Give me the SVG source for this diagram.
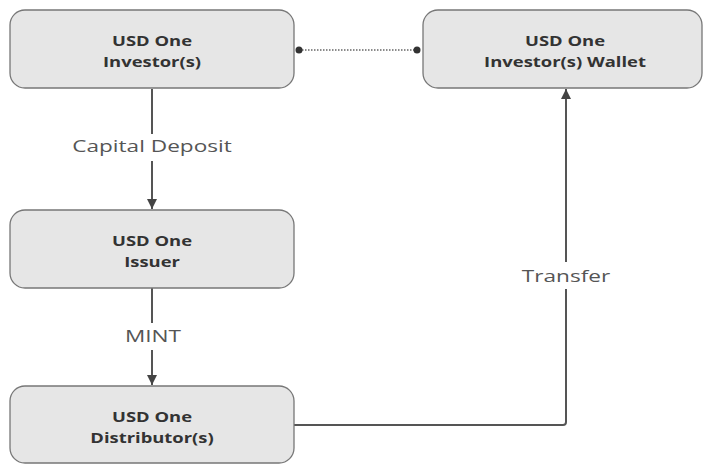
<svg xmlns="http://www.w3.org/2000/svg" width="703" height="464" viewBox="0 0 703 464">
<style>
.node rect{fill:#e6e6e6;stroke:#777;stroke-width:1.3}
.node text{font-family:"Open Sans",sans-serif;font-weight:bold;font-size:14.5px;fill:#333;text-anchor:middle}
.edge{fill:none;stroke:#555;stroke-width:2}
.lbl{font-family:"Open Sans",sans-serif;font-size:17px;fill:#555;text-anchor:middle}
.lblbg{fill:#fff}
</style>
<defs>
<marker id="arr" viewBox="0 0 10 10" refX="10" refY="5" markerWidth="5" markerHeight="5" orient="auto" markerUnits="strokeWidth">
<path d="M0,0 L10,5 L0,10 z" fill="#444"/>
</marker>
</defs>
<rect width="703" height="464" fill="#fff"/>
<g id="connectors">
<path class="edge" d="M152,89 V209" marker-end="url(#arr)"/>
<path class="edge" d="M152,288 V385" marker-end="url(#arr)"/>
<path class="edge" d="M294,425 H563 Q566,425 566,422 V89" marker-end="url(#arr)"/>
<path d="M299,50 H417" stroke="#666" stroke-width="1.3" stroke-dasharray="1.5,1.5" fill="none"/>
<circle cx="299" cy="50" r="3.5" fill="#333"/>
<circle cx="417" cy="50" r="3.5" fill="#333"/>
<rect class="lblbg" x="70" y="134" width="164" height="27"/>
<text class="lbl" transform="translate(152,152) scale(1.33,1)">Capital Deposit</text>
<rect class="lblbg" x="124" y="323" width="58" height="27"/>
<text class="lbl" transform="translate(153,342) scale(1.33,1)">MINT</text>
<rect class="lblbg" x="519" y="262" width="94" height="27"/>
<text class="lbl" transform="translate(566,282) scale(1.33,1)">Transfer</text>
</g>
<g id="investors" class="node">
<rect x="10" y="10" width="284" height="78" rx="15"/>
<text transform="translate(152,46) scale(1.27,1)">USD One</text>
<text transform="translate(152,67) scale(1.27,1)">Investor(s)</text>
</g>
<g id="wallet" class="node">
<rect x="423" y="10" width="279" height="78" rx="15"/>
<text transform="translate(565,46) scale(1.27,1)">USD One</text>
<text transform="translate(565,67) scale(1.27,1)">Investor(s) Wallet</text>
</g>
<g id="issuer" class="node">
<rect x="10" y="210" width="284" height="78" rx="15"/>
<text transform="translate(152,246) scale(1.27,1)">USD One</text>
<text transform="translate(152,267) scale(1.27,1)">Issuer</text>
</g>
<g id="distributor" class="node">
<rect x="10" y="386" width="284" height="77" rx="15"/>
<text transform="translate(152,422) scale(1.27,1)">USD One</text>
<text transform="translate(152,443) scale(1.27,1)">Distributor(s)</text>
</g>
</svg>
